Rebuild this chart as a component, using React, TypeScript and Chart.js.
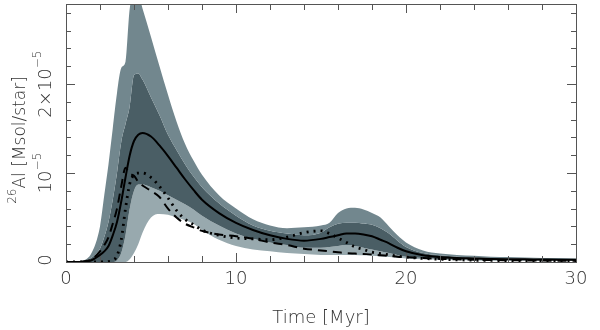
import React, { useEffect, useRef } from 'react';
import { Chart, registerables } from 'chart.js';

Chart.register(...registerables);

// Time in Myr
const TIME = [0, 0.5, 1, 1.5, 2, 2.25, 2.5, 2.75, 3, 3.25, 3.5, 3.75, 4, 4.25, 4.5, 5, 5.5, 6, 6.5, 7, 7.5, 8, 9, 10, 11, 12, 13, 14, 15, 15.5, 16, 16.5, 17, 17.5, 18, 18.5, 19, 19.5, 20, 21, 22, 23, 24, 25, 26, 27, 28, 29, 30];

// values in units of 1e-6 Msol/star
const OUTER_UPPER = [0, 0.02, 0.15, 1.0, 4.0, 7.5, 11, 15, 19, 21.8, 22.5, 28.5, 30, 30, 28.5, 25.3, 22, 18.8, 15.8, 13.3, 11.4, 9.8, 7.5, 6.0, 4.8, 4.1, 3.8, 3.9, 4.1, 4.4, 5.5, 6.0, 6.1, 5.9, 5.5, 5.0, 4.0, 3.0, 2.2, 1.3, 0.95, 0.8, 0.7, 0.6, 0.55, 0.5, 0.45, 0.45, 0.4];
const INNER_UPPER = [0, 0.01, 0.08, 0.5, 1.5, 2.8, 4.5, 7, 10, 13.5, 15.5, 17.5, 21, 21.2, 20.5, 18.5, 16.5, 14.3, 12.6, 11.0, 9.6, 8.4, 6.6, 5.2, 4.1, 3.5, 3.2, 3.0, 3.3, 3.9, 4.3, 4.4, 4.4, 4.3, 4.2, 3.8, 3.2, 2.4, 1.7, 1.0, 0.75, 0.6, 0.5, 0.45, 0.4, 0.37, 0.35, 0.33, 0.3];
const INNER_LOWER = [0, 0, 0, 0, 0, 0, 0, 0, 0.2, 1.0, 3.0, 6.0, 8.0, 8.7, 8.7, 8.4, 8.0, 7.5, 7.0, 6.5, 5.9, 5.2, 4.1, 3.2, 2.6, 2.2, 1.9, 1.6, 1.6, 1.7, 1.8, 1.9, 1.8, 1.6, 1.4, 1.2, 1.0, 0.8, 0.6, 0.45, 0.35, 0.3, 0.25, 0.22, 0.2, 0.18, 0.17, 0.16, 0.15];
const OUTER_LOWER = [0, 0, 0, 0, 0, 0, 0, 0, 0, 0, 0, 0.3, 1.0, 2.0, 3.3, 5.0, 5.4, 5.3, 5.0, 4.7, 4.3, 3.6, 2.5, 1.8, 1.4, 1.2, 1.0, 0.9, 0.8, 0.8, 0.8, 0.8, 0.8, 0.75, 0.7, 0.62, 0.55, 0.47, 0.4, 0.3, 0.25, 0.2, 0.18, 0.15, 0.14, 0.13, 0.12, 0.11, 0.1];
const MEDIAN = [0, 0, 0.02, 0.2, 0.8, 1.2, 1.8, 3.0, 4.5, 6.8, 9.5, 12.0, 13.6, 14.3, 14.5, 14.1, 13.1, 11.9, 10.6, 9.3, 8.1, 7.0, 5.5, 4.4, 3.6, 3.0, 2.6, 2.4, 2.6, 2.8, 3.0, 3.2, 3.2, 3.1, 2.9, 2.5, 2.1, 1.6, 1.2, 0.75, 0.55, 0.45, 0.4, 0.35, 0.32, 0.3, 0.28, 0.26, 0.25];
const DASHED = [0, 0, 0.05, 0.3, 1.2, 1.9, 2.8, 4.3, 6.0, 8.5, 10.6, 9.9, 9.7, 9.0, 8.6, 8.0, 7.3, 6.0, 5.0, 4.3, 3.9, 3.5, 3.1, 2.9, 2.6, 2.2, 1.9, 1.5, 1.3, 1.2, 1.1, 1.0, 0.95, 0.9, 0.85, 0.75, 0.7, 0.6, 0.55, 0.45, 0.35, 0.3, 0.25, 0.22, 0.2, 0.18, 0.16, 0.15, 0.15];
const DOTTED = [0, 0, 0, 0, 0, 0, 0.05, 0.2, 0.7, 2.5, 6.0, 8.8, 9.8, 10.0, 10.0, 9.5, 8.5, 7.2, 5.8, 4.8, 4.2, 3.6, 3.0, 2.7, 2.6, 2.5, 2.8, 3.3, 3.5, 3.2, 2.7, 2.2, 1.7, 1.4, 1.1, 0.95, 0.8, 0.65, 0.55, 0.4, 0.3, 0.25, 0.2, 0.18, 0.15, 0.13, 0.12, 0.11, 0.1];

const UNIT = 1e-6;
const Y_MAX = 2.9e-5;
const X_MAJOR_TICKS = [0, 10, 20, 30];
const X_TICK_LABELS = ['0', '10', '20', '30'];
const Y_MAJOR_TICKS = [0, 1e-5, 2e-5];
const Y_TICK_LABELS = [[{ t: '0' }], [{ t: '10' }, { t: '−5', sup: true }], [{ t: '2×10' }, { t: '−5', sup: true }]];
const X_TITLE = 'Time [Myr]';
const Y_TITLE = [{ t: '26', sup: true }, { t: 'Al [Msol/star]' }];

const FONT_FAMILY = '"DejaVu Sans", sans-serif';
const TEXT_COLOR = '#333';

type Part = { t: string; sup?: boolean };

function drawRich(ctx: CanvasRenderingContext2D, parts: Part[], x: number, y: number, size: number, rotate: boolean) {
  ctx.save();
  ctx.translate(x, y);
  if (rotate) ctx.rotate(-Math.PI / 2);
  const base = `300 ${size}px ${FONT_FAMILY}`;
  const small = `300 ${Math.round(size * 0.68)}px ${FONT_FAMILY}`;
  let w = 0;
  for (const p of parts) {
    ctx.font = p.sup ? small : base;
    w += ctx.measureText(p.t).width;
  }
  let cx = -w / 2;
  ctx.textBaseline = 'middle';
  ctx.textAlign = 'left';
  ctx.fillStyle = TEXT_COLOR;
  for (const p of parts) {
    ctx.font = p.sup ? small : base;
    ctx.fillText(p.t, cx, p.sup ? -size * 0.45 : 0);
    cx += ctx.measureText(p.t).width;
  }
  ctx.restore();
}

const framePlugin = {
  id: 'frame',
  afterDraw(chart: any) {
    const { ctx, chartArea: a, scales } = chart;
    const xs = scales.x;
    const ys = scales.y;
    ctx.save();
    ctx.strokeStyle = '#555';
    ctx.lineWidth = 1;
    ctx.strokeRect(a.left + 0.5, a.top + 0.5, a.right - a.left, a.bottom - a.top);
    ctx.beginPath();
    for (let t = 0; t <= 30; t += 2) {
      const px = Math.round(xs.getPixelForValue(t)) + 0.5;
      const len = t % 10 === 0 ? 9 : 6;
      ctx.moveTo(px, a.bottom);
      ctx.lineTo(px, a.bottom - len);
      ctx.moveTo(px, a.top);
      ctx.lineTo(px, a.top + len);
    }
    for (let i = 0; i <= 14; i++) {
      const v = i * 2e-6;
      if (v > Y_MAX) break;
      const py = Math.round(ys.getPixelForValue(v)) + 0.5;
      const len = i % 5 === 0 ? 9 : 5;
      ctx.moveTo(a.left, py);
      ctx.lineTo(a.left + len, py);
      ctx.moveTo(a.right, py);
      ctx.lineTo(a.right - len, py);
    }
    ctx.stroke();
    ctx.restore();

    X_MAJOR_TICKS.forEach((t, i) => {
      drawRich(ctx, [{ t: X_TICK_LABELS[i] }], xs.getPixelForValue(t), a.bottom + 17, 18, false);
    });
    Y_MAJOR_TICKS.forEach((v, i) => {
      drawRich(ctx, Y_TICK_LABELS[i], a.left - 20, ys.getPixelForValue(v) - (i === 0 ? 2 : 0), 18, true);
    });
    drawRich(ctx, [{ t: X_TITLE }], (a.left + a.right) / 2, a.bottom + 56, 18, false);
    drawRich(ctx, Y_TITLE, 21, 140, 17, true);
  },
};

const pts = (arr: number[]) => arr.map((v, i) => ({ x: TIME[i], y: v * UNIT }));

export default function App() {
  const ref = useRef<HTMLCanvasElement | null>(null);
  useEffect(() => {
    if (!ref.current) return;
    const band = (data: number[], color: string | null) => ({
      data: pts(data),
      borderWidth: 0,
      pointRadius: 0,
      backgroundColor: color || 'transparent',
      fill: color ? '+1' : false,
      cubicInterpolationMode: 'monotone' as const,
      order: 10,
    });
    const line = (data: number[], dash: number[], width: number) => ({
      data: pts(data),
      borderColor: '#000',
      borderWidth: width,
      borderDash: dash,
      pointRadius: 0,
      fill: false,
      cubicInterpolationMode: 'monotone' as const,
      order: 1,
    });
    const chart = new Chart(ref.current, {
      type: 'line',
      data: {
        datasets: [
          band(OUTER_UPPER, '#72878e'),
          band(INNER_UPPER, '#4a5e65'),
          band(INNER_LOWER, '#98a9ae'),
          band(OUTER_LOWER, null),
          line(MEDIAN, [], 2),
          line(DASHED, [9, 6], 2),
          line(DOTTED, [2, 5], 2.8),
        ] as any,
      },
      options: {
        responsive: false,
        animation: false,
        devicePixelRatio: 1,
        layout: { padding: { left: 66, right: 24, top: 4, bottom: 68 } },
        scales: {
          x: { type: 'linear', min: 0, max: 30, display: false },
          y: { type: 'linear', min: 0, max: Y_MAX, display: false },
        },
        plugins: {
          legend: { display: false },
          tooltip: { enabled: false },
          filler: { drawTime: 'beforeDatasetsDraw' } as any,
        },
      },
      plugins: [framePlugin],
    });
    return () => chart.destroy();
  }, []);
  return (
    <div style={{ position: 'absolute', left: 0, top: 0, width: 600, height: 330, background: '#fff' }}>
      <canvas ref={ref} width={600} height={330} />
    </div>
  );
}
